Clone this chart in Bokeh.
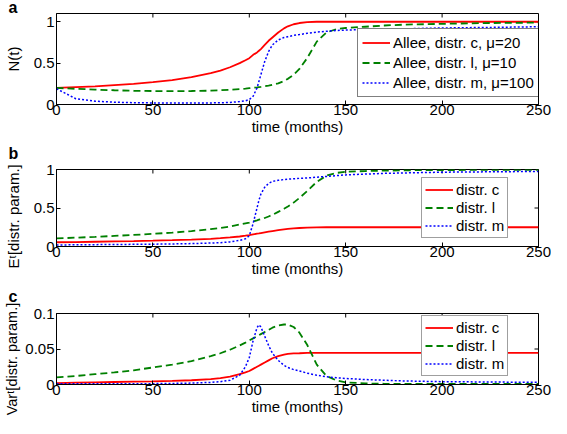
import math
from bokeh.plotting import figure
from bokeh.layouts import column
from bokeh.models import FixedTicker, Legend, LegendItem, Range1d
from bokeh.embed import file_html
from bokeh.resources import INLINE

# ---------------- data ----------------
months = [0, 10, 20, 30, 40, 50, 60, 70, 80, 85, 90, 95, 98, 100, 102, 104, 105, 106,
          108, 110, 112, 115, 118, 120, 123, 126, 130, 135, 140, 145, 150, 160, 170,
          180, 200, 225, 250]

# panel a : N(t)
a_allee_c = [0.20, 0.21, 0.22, 0.235, 0.25, 0.27, 0.295, 0.33, 0.38, 0.41, 0.45, 0.50, 0.535,
             0.56, 0.60, 0.63, 0.65, 0.67, 0.72, 0.77, 0.81, 0.87, 0.92, 0.945, 0.97, 0.985,
             0.995, 1.0, 1.0, 1.0, 1.0, 1.0, 1.0, 1.0, 1.0, 1.0, 1.0]
a_allee_l = [0.20, 0.19, 0.18, 0.172, 0.166, 0.163, 0.162, 0.163, 0.167, 0.172, 0.178, 0.186,
             0.192, 0.197, 0.202, 0.207, 0.21, 0.213, 0.22, 0.228, 0.238, 0.255, 0.285, 0.31,
             0.36, 0.43, 0.56, 0.76, 0.87, 0.91, 0.925, 0.94, 0.955, 0.965, 0.975, 0.985, 0.99]
a_allee_m = [0.19, 0.07, 0.04, 0.028, 0.022, 0.019, 0.018, 0.018, 0.019, 0.021, 0.025, 0.035,
             0.045, 0.06, 0.10, 0.20, 0.28, 0.36, 0.52, 0.64, 0.72, 0.78, 0.81, 0.82, 0.835,
             0.845, 0.86, 0.875, 0.885, 0.895, 0.90, 0.905, 0.91, 0.915, 0.925, 0.932, 0.94]

# panel b : E^t[distr. param.]
b_distr_c = [0.055, 0.058, 0.062, 0.066, 0.07, 0.075, 0.082, 0.09, 0.10, 0.108, 0.118, 0.13,
             0.14, 0.148, 0.157, 0.166, 0.17, 0.175, 0.184, 0.193, 0.201, 0.212, 0.222, 0.228,
             0.235, 0.24, 0.245, 0.248, 0.25, 0.25, 0.25, 0.25, 0.25, 0.25, 0.25, 0.25, 0.25]
b_distr_l = [0.105, 0.115, 0.125, 0.138, 0.15, 0.165, 0.18, 0.20, 0.225, 0.24, 0.26, 0.285,
             0.30, 0.31, 0.325, 0.34, 0.348, 0.355, 0.37, 0.39, 0.41, 0.45, 0.49, 0.52, 0.57,
             0.63, 0.72, 0.84, 0.92, 0.955, 0.97, 0.98, 0.985, 0.99, 0.993, 0.995, 0.997]
b_distr_m = [0.02, 0.022, 0.024, 0.026, 0.028, 0.03, 0.033, 0.038, 0.045, 0.05, 0.06, 0.08,
             0.10, 0.14, 0.30, 0.50, 0.60, 0.68, 0.77, 0.82, 0.845, 0.86, 0.87, 0.875, 0.88,
             0.885, 0.89, 0.90, 0.91, 0.92, 0.93, 0.94, 0.95, 0.955, 0.965, 0.97, 0.975]

# panel c : Var^t[distr. param.]
c_distr_c = [0.002, 0.0025, 0.003, 0.0035, 0.004, 0.0045, 0.0052, 0.006, 0.0075, 0.009, 0.011,
             0.0145, 0.017, 0.019, 0.022, 0.025, 0.0265, 0.028, 0.031, 0.034, 0.037, 0.040,
             0.042, 0.043, 0.0437, 0.044, 0.0445, 0.0445, 0.0445, 0.0445, 0.0445, 0.0445,
             0.0445, 0.0445, 0.0445, 0.0445, 0.0445]
c_distr_l = [0.010, 0.012, 0.0145, 0.017, 0.020, 0.024, 0.028, 0.033, 0.040, 0.044, 0.049,
             0.055, 0.059, 0.062, 0.065, 0.068, 0.0695, 0.071, 0.074, 0.077, 0.080, 0.083,
             0.0845, 0.0845, 0.081, 0.073, 0.056, 0.028, 0.012, 0.006, 0.003, 0.0015, 0.001,
             0.001, 0.0008, 0.0007, 0.0007]
c_distr_m = [0.001, 0.001, 0.001, 0.001, 0.001, 0.0012, 0.0015, 0.002, 0.003, 0.004, 0.006,
             0.013, 0.025, 0.038, 0.062, 0.080, 0.084, 0.081, 0.068, 0.055, 0.044, 0.034,
             0.027, 0.024, 0.021, 0.019, 0.016, 0.013, 0.011, 0.0095, 0.0085, 0.007, 0.006,
             0.005, 0.004, 0.0035, 0.003]

x_max = 250
x_ticks = [0, 50, 100, 150, 200, 250]
x_tick_labels = ["0", "50", "100", "150", "200", "250"]
a_y_ticks = [0, 0.5, 1]
a_y_tick_labels = ["0", "0.5", "1"]
b_y_ticks = [0, 0.5, 1]
b_y_tick_labels = ["0", "0.5", "1"]
c_y_ticks = [0, 0.05, 0.1]
c_y_tick_labels = ["0", "0.05", "0.1"]

a_legend = ["Allee, distr. c, \u03bc=20", "Allee, distr. l, \u03bc=10", "Allee, distr. m, \u03bc=100"]
bc_legend = ["distr. c", "distr. l", "distr. m"]

# ---------------- styling ----------------
FONT = "Liberation Sans, DejaVu Sans"
FS = "15px"
W = 551
LEFT = 56
PLOT_W = 482
BOTTOM = 34
STYLES = [
    dict(line_color="#ff0000", line_width=1.8),
    dict(line_color="#008000", line_width=1.8, line_dash="7 4"),
    dict(line_color="#0000ff", line_width=1.5, line_dash="2 2"),
]


def style_axis(ax):
    ax.axis_line_color = "black"
    ax.major_tick_line_color = "black"
    ax.major_tick_in = 4
    ax.major_tick_out = 0
    ax.minor_tick_line_color = None
    ax.major_label_text_font = FONT
    ax.major_label_text_font_size = FS
    ax.major_label_text_color = "black"
    ax.axis_label_text_font = FONT
    ax.axis_label_text_font_size = FS
    ax.axis_label_text_font_style = "normal"
    ax.axis_label_text_color = "black"


def make_panel(height, border_top, y_max, y_ticks, y_labels, y_title, y_title_standoff,
               y_title_size, letter, letter_standoff, series, labels, legend_xy,
               legend_dims, legend_border):
    p = figure(width=W, height=height, x_range=Range1d(0, x_max), y_range=Range1d(0, y_max),
               output_backend="svg", toolbar_location=None,
               min_border_left=LEFT, min_border_right=W - LEFT - PLOT_W,
               min_border_top=border_top, min_border_bottom=BOTTOM)
    p.xgrid.visible = False
    p.ygrid.visible = False
    p.background_fill_color = "white"
    p.border_fill_color = "white"
    p.outline_line_color = "black"
    p.outline_line_width = 1

    p.xaxis.ticker = FixedTicker(ticks=x_ticks)
    p.yaxis.ticker = FixedTicker(ticks=y_ticks)
    p.xaxis.major_label_overrides = dict(zip(x_ticks, x_tick_labels))
    p.yaxis.major_label_overrides = dict(zip(y_ticks, y_labels))
    for ax in p.xaxis:
        style_axis(ax)
        ax.major_label_standoff = 0
        ax.axis_label_standoff = 0
        ax.axis_label = "time (months)"
    for ax in p.yaxis:
        style_axis(ax)
        ax.major_label_standoff = 2
        ax.axis_label_standoff = y_title_standoff
        ax.axis_label = y_title
        ax.axis_label_text_font_size = y_title_size

    # mirrored inner ticks on top and right (MATLAB box style)
    p.ray(x=x_ticks, y=[y_max] * len(x_ticks), length=4, length_units="screen",
          angle=-math.pi / 2, line_color="black", line_width=1)
    p.ray(x=[x_max] * len(y_ticks), y=y_ticks, length=4, length_units="screen",
          angle=math.pi, line_color="black", line_width=1)

    items = []
    for ys, lab, st in zip(series, labels, STYLES):
        r = p.line(months, ys, **st)
        items.append(LegendItem(label=lab, renderers=[r]))

    glyph_w, lab_h, pad = legend_dims
    leg = Legend(items=items, location=legend_xy, margin=0, padding=pad, spacing=1,
                 label_text_font=FONT, label_text_font_size=FS, label_text_color="black",
                 label_height=lab_h, glyph_height=lab_h, glyph_width=glyph_w,
                 label_standoff=3, background_fill_color="white", background_fill_alpha=1,
                 border_line_color=legend_border, border_line_width=1)
    p.add_layout(leg, "center")

    p.title.text = letter
    p.title.align = "left"
    p.title.vertical_align = "top"
    p.title.offset = -48
    p.title.standoff = letter_standoff
    p.title.text_font = FONT
    p.title.text_font_size = "16px"
    p.title.text_font_style = "bold"
    p.title.text_color = "black"
    return p


# trailing no-break spaces move the rotated y titles slightly down, clear of the panel letter
PAD_B = "\u00a0" * 4
PAD_C = "\u00a0" * 5

pa = make_panel(138, 13, 1.1, a_y_ticks, a_y_tick_labels, "N(t)", 9, FS, "a", -8,
                [a_allee_c, a_allee_l, a_allee_m], a_legend, (301, 7), (28, 19, 4), "black")
pb = make_panel(142, 31, 1.0, b_y_ticks, b_y_tick_labels, "E\u1d57[distr. param.]" + PAD_B, 9,
                FS, "b", 11, [b_distr_c, b_distr_l, b_distr_m], bc_legend, (365, 8),
                (28, 17, 3), "#404040")
pc = make_panel(138, 33, 0.1, c_y_ticks, c_y_tick_labels, "Var\u1d57[distr. param.]" + PAD_C, 2,
                "14.5px", "c", 13, [c_distr_c, c_distr_l, c_distr_m], bc_legend, (365, 8),
                (28, 17, 3), "#404040")

layout = column(pa, pb, pc, spacing=0)
open("out.html", "w").write(file_html(layout, INLINE))
